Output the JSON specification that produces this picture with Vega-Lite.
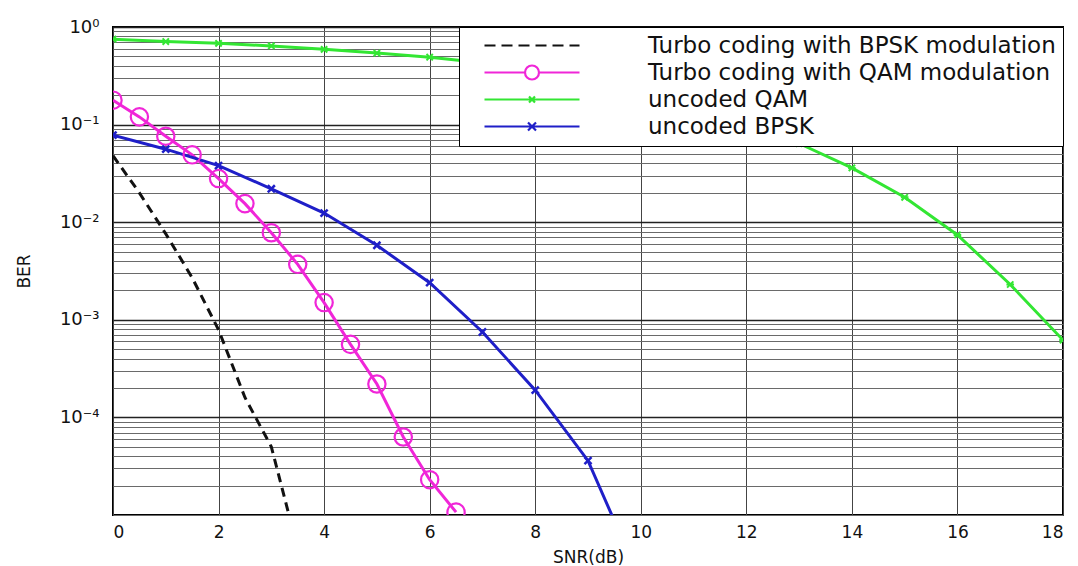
{
  "$schema": "https://vega.github.io/schema/vega-lite/v6.json",
  "width": 950,
  "height": 488,
  "autosize": {"type": "none"},
  "padding": {"left": 113, "top": 27, "right": 15, "bottom": 51},
  "background": "white",
  "config": {
    "view": {"stroke": "black", "strokeWidth": 2},
    "font": "DejaVu Sans",
    "axis": {"labelFont": "DejaVu Sans", "titleFont": "DejaVu Sans", "labelColor": "#111", "titleColor": "#111", "titleFontWeight": "normal"}
  },
  "data": {
    "values": [
      {"series": "Turbo coding with BPSK modulation", "snr": 0, "ber": 0.048},
      {"series": "Turbo coding with BPSK modulation", "snr": 0.5, "ber": 0.020},
      {"series": "Turbo coding with BPSK modulation", "snr": 1, "ber": 0.0076},
      {"series": "Turbo coding with BPSK modulation", "snr": 1.5, "ber": 0.0027},
      {"series": "Turbo coding with BPSK modulation", "snr": 2, "ber": 0.00079},
      {"series": "Turbo coding with BPSK modulation", "snr": 2.5, "ber": 0.00016},
      {"series": "Turbo coding with BPSK modulation", "snr": 3, "ber": 0.00005},
      {"series": "Turbo coding with BPSK modulation", "snr": 3.5, "ber": 0.0000045},
      {"series": "Turbo coding with QAM modulation", "snr": 0, "ber": 0.178},
      {"series": "Turbo coding with QAM modulation", "snr": 0.5, "ber": 0.12},
      {"series": "Turbo coding with QAM modulation", "snr": 1, "ber": 0.076},
      {"series": "Turbo coding with QAM modulation", "snr": 1.5, "ber": 0.049},
      {"series": "Turbo coding with QAM modulation", "snr": 2, "ber": 0.028},
      {"series": "Turbo coding with QAM modulation", "snr": 2.5, "ber": 0.0155},
      {"series": "Turbo coding with QAM modulation", "snr": 3, "ber": 0.0078},
      {"series": "Turbo coding with QAM modulation", "snr": 3.5, "ber": 0.0037},
      {"series": "Turbo coding with QAM modulation", "snr": 4, "ber": 0.0015},
      {"series": "Turbo coding with QAM modulation", "snr": 4.5, "ber": 0.00056},
      {"series": "Turbo coding with QAM modulation", "snr": 5, "ber": 0.00022},
      {"series": "Turbo coding with QAM modulation", "snr": 5.5, "ber": 0.000063},
      {"series": "Turbo coding with QAM modulation", "snr": 6, "ber": 0.000023},
      {"series": "Turbo coding with QAM modulation", "snr": 6.5, "ber": 0.0000107},
      {"series": "uncoded QAM", "snr": 0, "ber": 0.75},
      {"series": "uncoded QAM", "snr": 1, "ber": 0.71},
      {"series": "uncoded QAM", "snr": 2, "ber": 0.68},
      {"series": "uncoded QAM", "snr": 3, "ber": 0.64},
      {"series": "uncoded QAM", "snr": 4, "ber": 0.59},
      {"series": "uncoded QAM", "snr": 5, "ber": 0.54},
      {"series": "uncoded QAM", "snr": 6, "ber": 0.49},
      {"series": "uncoded QAM", "snr": 7, "ber": 0.43},
      {"series": "uncoded QAM", "snr": 8, "ber": 0.37},
      {"series": "uncoded QAM", "snr": 9, "ber": 0.31},
      {"series": "uncoded QAM", "snr": 10, "ber": 0.245},
      {"series": "uncoded QAM", "snr": 11, "ber": 0.18},
      {"series": "uncoded QAM", "snr": 12, "ber": 0.115},
      {"series": "uncoded QAM", "snr": 13, "ber": 0.064},
      {"series": "uncoded QAM", "snr": 14, "ber": 0.036},
      {"series": "uncoded QAM", "snr": 15, "ber": 0.018},
      {"series": "uncoded QAM", "snr": 16, "ber": 0.0074},
      {"series": "uncoded QAM", "snr": 17, "ber": 0.0023},
      {"series": "uncoded QAM", "snr": 18, "ber": 0.00062},
      {"series": "uncoded BPSK", "snr": 0, "ber": 0.078},
      {"series": "uncoded BPSK", "snr": 1, "ber": 0.056},
      {"series": "uncoded BPSK", "snr": 2, "ber": 0.038},
      {"series": "uncoded BPSK", "snr": 3, "ber": 0.022},
      {"series": "uncoded BPSK", "snr": 4, "ber": 0.0124},
      {"series": "uncoded BPSK", "snr": 5, "ber": 0.0058},
      {"series": "uncoded BPSK", "snr": 6, "ber": 0.0024},
      {"series": "uncoded BPSK", "snr": 7, "ber": 0.00075},
      {"series": "uncoded BPSK", "snr": 8, "ber": 0.00019},
      {"series": "uncoded BPSK", "snr": 9, "ber": 0.000036},
      {"series": "uncoded BPSK", "snr": 10, "ber": 0.0000021}
    ]
  },
  "encoding": {
    "x": {
      "field": "snr", "type": "quantitative",
      "scale": {"domain": [0, 18], "nice": false, "zero": false},
      "axis": {
        "title": "SNR(dB)", "values": [0, 2, 4, 6, 8, 10, 12, 14, 16, 18],
        "grid": true, "gridColor": "#444", "gridOpacity": 1, "gridWidth": 1,
        "ticks": false, "domain": false,
        "labelFontSize": 17, "labelPadding": 9, "titleFontSize": 17, "titlePadding": 9
      }
    },
    "y": {
      "field": "ber", "type": "quantitative",
      "scale": {"type": "log", "domain": [0.00001, 1], "nice": false},
      "axis": {
        "title": "BER",
        "values": [0.00001, 0.00002, 0.00003, 0.00004, 0.00005, 0.00006, 0.00007, 0.00008, 0.00009,
                   0.0001, 0.0002, 0.0003, 0.0004, 0.0005, 0.0006, 0.0007, 0.0008, 0.0009,
                   0.001, 0.002, 0.003, 0.004, 0.005, 0.006, 0.007, 0.008, 0.009,
                   0.01, 0.02, 0.03, 0.04, 0.05, 0.06, 0.07, 0.08, 0.09,
                   0.1, 0.2, 0.3, 0.4, 0.5, 0.6, 0.7, 0.8, 0.9, 1],
        "labelExpr": "datum.value == 1 ? '10⁰' : datum.value == 0.1 ? '10⁻¹' : datum.value == 0.01 ? '10⁻²' : datum.value == 0.001 ? '10⁻³' : datum.value == 0.0001 ? '10⁻⁴' : ''",
        "grid": true,
        "gridColor": {"condition": {"test": "datum.value == 1 || datum.value == 0.1 || datum.value == 0.01 || datum.value == 0.001 || datum.value == 0.0001", "value": "#222"}, "value": "#6a6a6a"},
        "gridWidth": {"condition": {"test": "datum.value == 1 || datum.value == 0.1 || datum.value == 0.01 || datum.value == 0.001 || datum.value == 0.0001", "value": 1.5}, "value": 1},
        "gridOpacity": 1,
        "ticks": false, "domain": false,
        "labelFontSize": 18, "labelPadding": 14, "labelOverlap": false,
        "titleFontSize": 17, "titleX": -80
      }
    }
  },
  "layer": [
    {
      "transform": [{"filter": "datum.series == 'Turbo coding with BPSK modulation'"}],
      "mark": {"type": "line", "clip": true, "strokeWidth": 3, "stroke": "#111111", "strokeDash": [9, 6]}
    },
    {
      "transform": [{"filter": "datum.series == 'Turbo coding with QAM modulation'"}],
      "mark": {"type": "line", "clip": true, "strokeWidth": 3, "stroke": "#f026d8"}
    },
    {
      "transform": [{"filter": "datum.series == 'uncoded QAM'"}],
      "mark": {"type": "line", "clip": true, "strokeWidth": 3, "stroke": "#33e633"}
    },
    {
      "transform": [{"filter": "datum.series == 'uncoded BPSK'"}],
      "mark": {"type": "line", "clip": true, "strokeWidth": 3, "stroke": "#1f1fc8"}
    },
    {
      "transform": [{"filter": "datum.series == 'Turbo coding with QAM modulation'"}],
      "mark": {"type": "point", "clip": true, "shape": "circle", "filled": false, "stroke": "#f026d8", "strokeWidth": 2.2, "size": 300, "opacity": 1}
    },
    {
      "transform": [{"filter": "datum.series == 'uncoded QAM'"}],
      "mark": {"type": "point", "clip": true, "shape": "M-1,-1L1,1M-1,1L1,-1M-1.2,0L1.2,0", "filled": false, "stroke": "#33e633", "strokeWidth": 2, "size": 40, "opacity": 1}
    },
    {
      "transform": [{"filter": "datum.series == 'uncoded BPSK'"}],
      "mark": {"type": "point", "clip": true, "shape": "M-1,-1L1,1M-1,1L1,-1", "filled": false, "stroke": "#1f1fc8", "strokeWidth": 2.5, "size": 50, "opacity": 1}
    },
    {
      "transform": [{"filter": "false"}],
      "mark": {"type": "point", "filled": false, "opacity": 1},
      "encoding": {
        "color": {
          "field": "series", "type": "nominal",
          "scale": {"domain": ["Turbo coding with BPSK modulation", "Turbo coding with QAM modulation", "uncoded QAM", "uncoded BPSK"],
                    "range": ["#111111", "#f026d8", "#33e633", "#1f1fc8"]},
          "legend": {
            "title": null, "orient": "top-right", "offset": 0,
            "fillColor": "white", "strokeColor": "black",
            "padding": 7, "rowPadding": 3,
            "labelFont": "DejaVu Sans", "labelFontSize": 23, "labelColor": "#111", "labelLimit": 800, "labelOffset": 159,
            "symbolSize": 400, "symbolStrokeWidth": 2.2, "symbolOpacity": 1,
            "encode": {"legend": {"update": {"strokeWidth": {"value": 1.5}}}}
          }
        },
        "shape": {
          "field": "series", "type": "nominal",
          "scale": {"domain": ["Turbo coding with BPSK modulation", "Turbo coding with QAM modulation", "uncoded QAM", "uncoded BPSK"],
                    "range": ["M0.7,0H1.8M2.4,0H3.5M4.1,0H5.2M5.8,0H6.9M7.5,0H8.6M9.2,0H10.2",
                              "M0.7,0H4.75M6.15,0H10.2M6.15,0A0.7,0.7 0 1,1 4.75,0A0.7,0.7 0 1,1 6.15,0",
                              "M0.7,0H10.2M5.15,-0.3L5.75,0.3M5.15,0.3L5.75,-0.3",
                              "M0.7,0H10.2M5.05,-0.4L5.85,0.4M5.05,0.4L5.85,-0.4"]},
          "legend": {
            "title": null, "orient": "top-right", "offset": 0,
            "fillColor": "white", "strokeColor": "black",
            "padding": 7, "rowPadding": 3,
            "labelFont": "DejaVu Sans", "labelFontSize": 23, "labelColor": "#111", "labelLimit": 800, "labelOffset": 159,
            "symbolSize": 400, "symbolStrokeWidth": 2.2, "symbolOpacity": 1,
            "encode": {"legend": {"update": {"strokeWidth": {"value": 1.5}}}}
          }
        }
      }
    }
  ]
}
